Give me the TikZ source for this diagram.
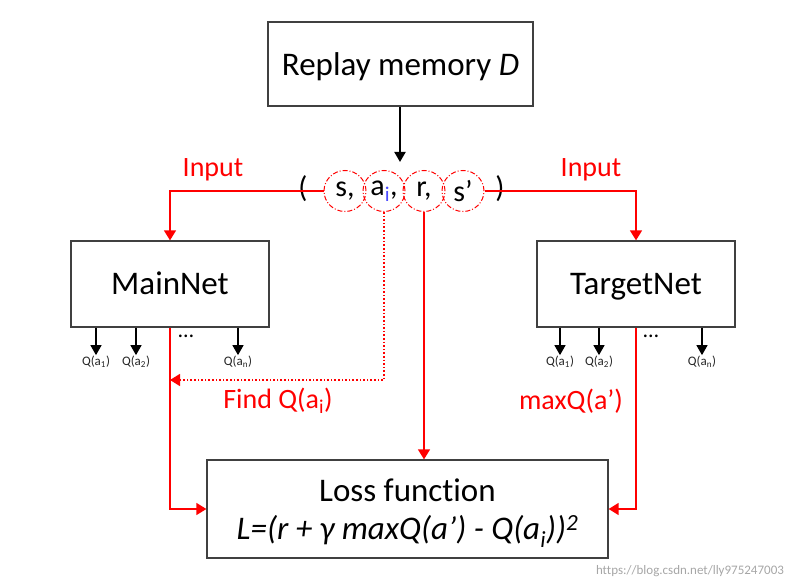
\documentclass[tikz,border=0pt]{standalone}
\usepackage{fontspec}
\setmainfont[Ligatures=NoCommon]{Carlito}
\usetikzlibrary{arrows.meta,shapes.geometric}

\begin{document}
\begin{tikzpicture}[
    x=1pt,y=-1pt,
    box/.style={draw=black!75,line width=1.3pt,fill=white,font={\fontsize{33}{39}\selectfont}},
    netbox/.style={box,minimum width=198,minimum height=86,text height=22pt,text depth=0pt},
    tup/.style={ellipse,draw=red,dash pattern=on 5pt off 2pt on 1pt off 2pt,line width=1pt,
                minimum width=42,minimum height=41,inner sep=0pt,font={\fontsize{30}{36}\selectfont}},
    redlab/.style={text=red,font={\fontsize{28}{33}\selectfont}},
    qlab/.style={font={\fontsize{13}{15}\selectfont},text=black!85,inner sep=1pt},
    redarr/.style={red,line width=1.6pt,-{Triangle[width=12pt,length=10pt]}},
    qarr/.style={black,line width=1.4pt,-{Triangle[width=11pt,length=10pt]}},
    ]
    \useasboundingbox (0,0) rectangle (807,588);

    % Boxes
    \node[box,minimum width=265,minimum height=84,text height=23pt,text depth=0pt] (memory) at (400.5,64) {Replay memory \textit{D}};
    \node[netbox] (mainnet) at (170,284) {MainNet};
    \node[netbox] (targetnet) at (636,284) {TargetNet};
    \node[box,minimum width=401,minimum height=98] (loss) at (407.5,509) {};
    \node[align=center,font={\fontsize{33}{38}\selectfont},yshift=-4pt] (losstext) at (loss.center)
          {Loss function\\\textit{L=(r + γ maxQ(a’) - Q(a\textsubscript{i}))\textsuperscript{2}}};

    % Transition tuple
    \node[font={\fontsize{30}{36}\selectfont}] (lpar) at (303,189) {(};
    \node[tup] (ts) at (345,191) {s,};
    \node[tup] (ta) at (384,191) {a\textsubscript{\textcolor{blue!70}{i}},};
    \node[tup] (tr) at (424,191) {r,};
    \node[tup] (tsp) at (463,191) {s’};
    \node[font={\fontsize{30}{36}\selectfont}] (rpar) at (500,189) {)};
    \coordinate (tuptop) at (400,162);
    \draw[qarr,line width=2pt] (memory.south -| tuptop) -- (tuptop);

    % Inputs
    \draw[redarr] (ts.west) -| (mainnet.north);
    \draw[redarr] (tsp.east) -| (targetnet.north);
    \node[redlab] (inl) at (213,170) {Input};
    \node[redlab] (inr) at (591,170) {Input};

    % Q values
    \foreach \n/\x/\s in {m1/96/1,m2/136/2,mn/238/n}{
        \node[qlab] (q\n) at (\x,362) {Q(a\textsubscript{\s})};
        \draw[qarr] (q\n |- mainnet.south) -- (q\n.north);
    }
    \foreach \n/\x/\s in {t1/560/1,t2/599/2,tn/702/n}{
        \node[qlab] (q\n) at (\x,362) {Q(a\textsubscript{\s})};
        \draw[qarr] (q\n |- targetnet.south) -- (q\n.north);
    }
    \node[font={\fontsize{22}{24}\selectfont}] (dm) at (186,336) {\dots};
    \node[font={\fontsize{22}{24}\selectfont}] (dt) at (651,336) {\dots};

    % To the loss
    \coordinate (find) at (170,380);
    \draw[redarr,dotted] (ta.south) |- (find);
    \draw[redarr] (tr.south) -- (tr.south |- loss.north);
    \draw[redarr] (mainnet.south) |- (loss.west);
    \draw[redarr] (targetnet.south) |- (loss.east);
    \node[redlab] (findq) at (278,401) {Find Q(a\textsubscript{i})};
    \node[redlab] (maxq) at (571,401) {maxQ(a’)};

    \node[text=black!35,font={\fontsize{13}{15}\selectfont}] (url) at (690,571) {https://blog.csdn.net/lly975247003};
\end{tikzpicture}
\end{document}
